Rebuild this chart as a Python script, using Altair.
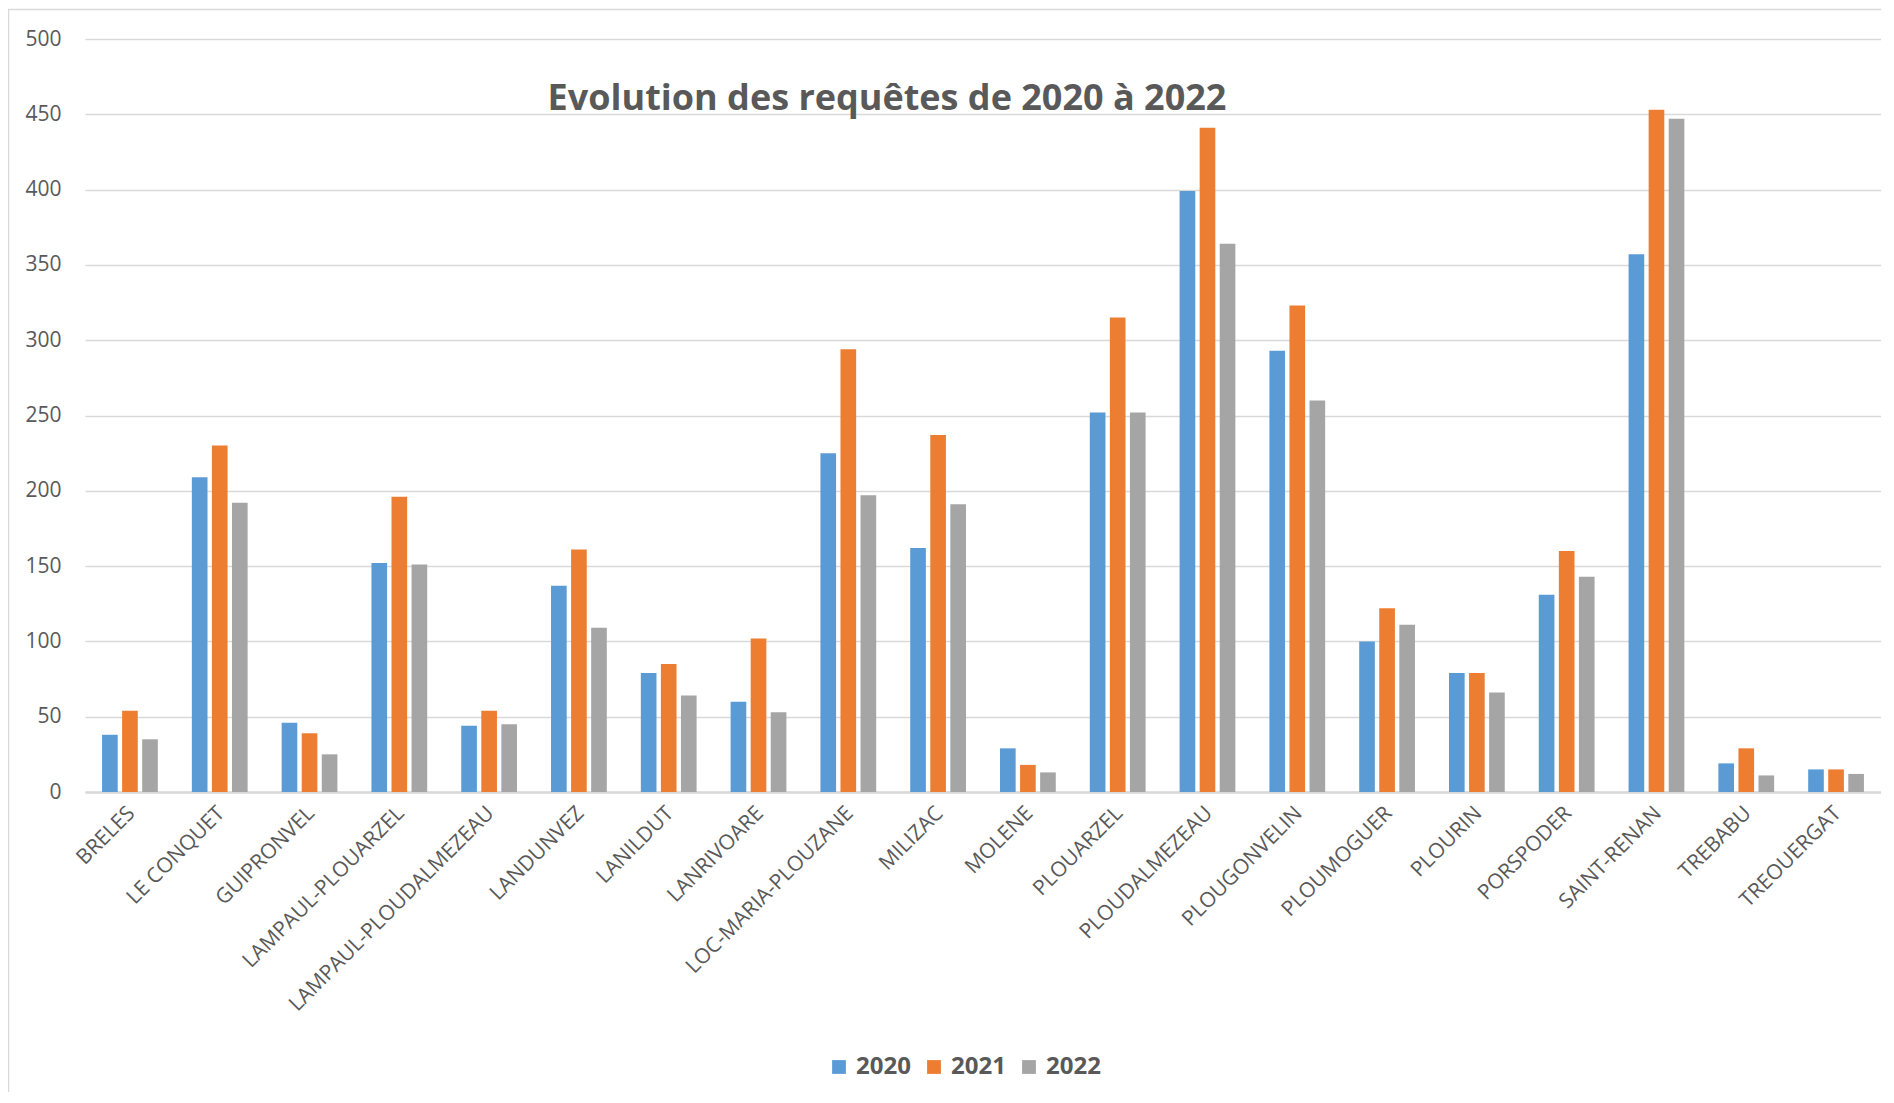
import altair as alt
import pandas as pd

communes = ["BRELES", "LE CONQUET", "GUIPRONVEL", "LAMPAUL-PLOUARZEL",
            "LAMPAUL-PLOUDALMEZEAU", "LANDUNVEZ", "LANILDUT", "LANRIVOARE",
            "LOC-MARIA-PLOUZANE", "MILIZAC", "MOLENE", "PLOUARZEL",
            "PLOUDALMEZEAU", "PLOUGONVELIN", "PLOUMOGUER", "PLOURIN",
            "PORSPODER", "SAINT-RENAN", "TREBABU", "TREOUERGAT"]
years = ["2020", "2021", "2022"]
v2020 = [38, 209, 46, 152, 44, 137, 79, 60, 225, 162, 29, 252, 399, 293, 100, 79, 131, 357, 19, 15]
v2021 = [54, 230, 39, 196, 54, 161, 85, 102, 294, 237, 18, 315, 441, 323, 122, 79, 160, 453, 29, 15]
v2022 = [35, 192, 25, 151, 45, 109, 64, 53, 197, 191, 13, 252, 364, 260, 111, 66, 143, 447, 11, 12]
y_ticks = [0, 50, 100, 150, 200, 250, 300, 350, 400, 450, 500]
colors = ["#5B9BD5", "#ED7D31", "#A5A5A5"]
title_text = "Evolution des requêtes de 2020 à 2022"

rows = []
for yr, vals in zip(years, [v2020, v2021, v2022]):
    for c, v in zip(communes, vals):
        rows.append({"Commune": c, "Année": yr, "Valeur": v})
df = pd.DataFrame(rows)

FONT = "Open Sans"
TXT = "#595959"
GRID = "#D9D9D9"
W, H = 1796, 753

bars = alt.Chart(df).mark_bar().encode(
    x=alt.X("Commune:N", sort=communes,
            scale=alt.Scale(paddingInner=0.379, paddingOuter=0.19),
            axis=alt.Axis(title=None, labelAngle=-45, labelFontSize=21,
                          labelFont=FONT, labelColor=TXT, ticks=False,
                          labelLimit=0, labelOverlap=False, labelOffset=-6,
                          domainColor=GRID, domainWidth=2.5, labelPadding=10,
                          grid=False)),
    xOffset=alt.XOffset("Année:N", sort=years,
                        scale=alt.Scale(paddingInner=0.22, paddingOuter=0)),
    y=alt.Y("Valeur:Q", scale=alt.Scale(domain=[0, 500], nice=False),
            axis=alt.Axis(values=y_ticks, title=None, grid=True,
                          gridColor=GRID, gridWidth=1.5, domain=False,
                          ticks=False, labelFontSize=21, labelFont=FONT,
                          labelColor=TXT, labelPadding=24)),
    color=alt.Color("Année:N",
                    scale=alt.Scale(domain=years, range=colors),
                    legend=alt.Legend(title=None, orient="none",
                                      legendX=742, legendY=1016,
                                      direction="horizontal",
                                      labelFontSize=24, labelFont=FONT,
                                      labelFontWeight="bold", labelColor=TXT,
                                      symbolType="square", symbolSize=190,
                                      symbolStrokeWidth=0,
                                      columnPadding=11, labelOffset=5)),
)

one = pd.DataFrame({"k": [0]})
title = alt.Chart(one).mark_text(
    font=FONT, fontSize=36, fontWeight="bold", color=TXT,
    align="center", baseline="middle"
).encode(x=alt.value(802), y=alt.value(60), text=alt.value(title_text))

border = alt.Chart(one).mark_rect(
    fill=None, stroke=GRID, strokeWidth=1.5
).encode(x=alt.value(-76.5), x2=alt.value(W + 50),
         y=alt.value(-29.5), y2=alt.value(H + 400))

chart = alt.layer(border, bars, title).properties(
    width=W, height=H,
    autosize=alt.AutoSizeParams(type="none"),
    padding={"left": 77, "top": 31, "right": 0, "bottom": 300},
    background="white",
).configure_view(stroke=None)

chart.save("out.html", embed_options={"renderer": "svg", "actions": False})
